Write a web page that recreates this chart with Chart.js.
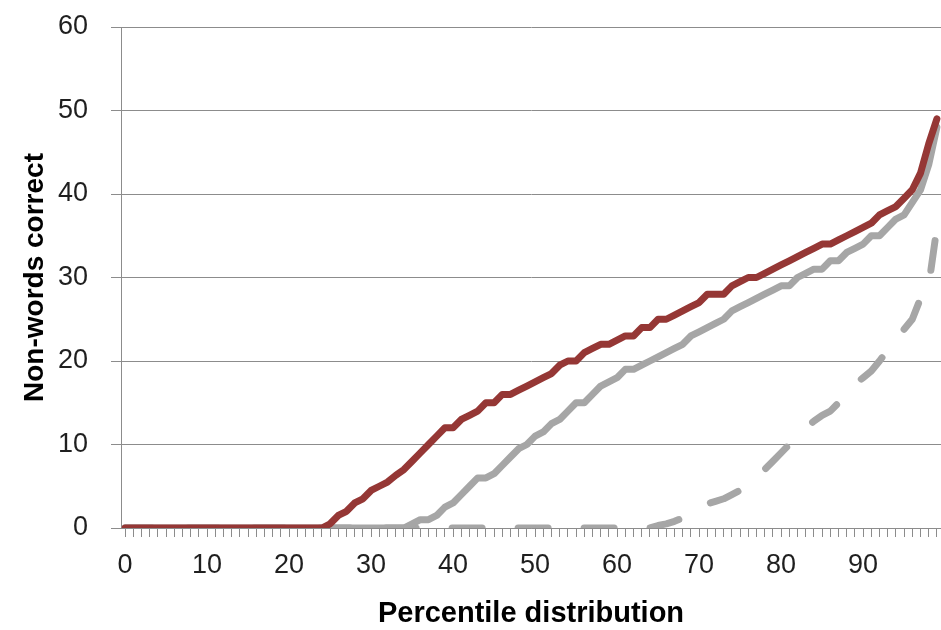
<!DOCTYPE html>
<html>
<head>
<meta charset="utf-8">
<script src="https://cdn.jsdelivr.net/npm/chart.js@4.4.1/dist/chart.umd.min.js"></script>
<style>
	html, body { margin: 0; padding: 0; background: #fff; }
</style>
</head>
<body>
<canvas id="pchart" width="941" height="630"></canvas>
<script>
//=========== data ===========
const percentiles = [
	0, 1, 2, 3, 4, 5, 6, 7, 8, 9,
	10, 11, 12, 13, 14, 15, 16, 17, 18, 19,
	20, 21, 22, 23, 24, 25, 26, 27, 28, 29,
	30, 31, 32, 33, 34, 35, 36, 37, 38, 39,
	40, 41, 42, 43, 44, 45, 46, 47, 48, 49,
	50, 51, 52, 53, 54, 55, 56, 57, 58, 59,
	60, 61, 62, 63, 64, 65, 66, 67, 68, 69,
	70, 71, 72, 73, 74, 75, 76, 77, 78, 79,
	80, 81, 82, 83, 84, 85, 86, 87, 88, 89,
	90, 91, 92, 93, 94, 95, 96, 97, 98, 99
];
const yTicks = [0, 10, 20, 30, 40, 50, 60];

// dark red series
const redScores = [
	0, 0, 0, 0, 0, 0, 0, 0, 0, 0,
	0, 0, 0, 0, 0, 0, 0, 0, 0, 0,
	0, 0, 0, 0, 0, 0.5, 1.5, 2, 3, 3.5,
	4.5, 5, 5.5, 6.3, 7, 8, 9, 10, 11, 12,
	12, 13, 13.5, 14, 15, 15, 16, 16, 16.5, 17,
	17.5, 18, 18.5, 19.5, 20, 20, 21, 21.5, 22, 22,
	22.5, 23, 23, 24, 24, 25, 25, 25.5, 26, 26.5,
	27, 28, 28, 28, 29, 29.5, 30, 30, 30.5, 31,
	31.5, 32, 32.5, 33, 33.5, 34, 34, 34.5, 35, 35.5,
	36, 36.5, 37.5, 38, 38.5, 39.5, 40.5, 42.5, 46, 49
];
// light grey solid series
const greyScores = [
	0, 0, 0, 0, 0, 0, 0, 0, 0, 0,
	0, 0, 0, 0, 0, 0, 0, 0, 0, 0,
	0, 0, 0, 0, 0, 0, 0, 0, 0, 0,
	0, 0, 0, 0, 0, 0.5, 1, 1, 1.5, 2.5,
	3, 4, 5, 6, 6, 6.5, 7.5, 8.5, 9.5, 10,
	11, 11.5, 12.5, 13, 14, 15, 15, 16, 17, 17.5,
	18, 19, 19, 19.5, 20, 20.5, 21, 21.5, 22, 23,
	23.5, 24, 24.5, 25, 26, 26.5, 27, 27.5, 28, 28.5,
	29, 29, 30, 30.5, 31, 31, 32, 32, 33, 33.5,
	34, 35, 35, 36, 37, 37.5, 39, 40.5, 43.5, 48
];
// grey dashed series
const dashScores = [
	0, 0, 0, 0, 0, 0, 0, 0, 0, 0,
	0, 0, 0, 0, 0, 0, 0, 0, 0, 0,
	0, 0, 0, 0, 0, 0, 0, 0, 0, 0,
	0, 0, 0, 0, 0, 0, 0, 0, 0, 0,
	0, 0, 0, 0, 0, 0, 0, 0, 0, 0,
	0, 0, 0, 0, 0, 0, 0, 0, 0, 0,
	0, 0, 0, 0, 0, 0.3, 0.5, 0.8, 1.2, 2,
	2.5, 2.9, 3.2, 3.5, 4, 4.5, 5.3, 6.1, 7, 8,
	9, 10, 11, 12, 12.8, 13.5, 14, 15, 16.5, 17.2,
	18, 18.8, 20, 21.3, 22.5, 23.8, 25, 27.5, 29, 36
];
//============================

const GRID = '#8c8c8c';
const FONT = "'Liberation Sans', Arial, sans-serif";

const ctx = document.getElementById('pchart').getContext('2d');
const myChart = new Chart(ctx, {
	type: 'line',
	data: {
		labels: percentiles,
		datasets: [
			{
				label: 'red',
				data: redScores,
				borderColor: '#953735',
				order: 0,
			},
			{
				label: 'grey',
				data: greyScores,
				borderColor: '#a6a6a6',
				order: 1,
			},
			{
				label: 'grey dashed',
				data: dashScores,
				borderColor: '#a6a6a6',
				borderDash: [30, 36],
				borderDashOffset: 3,
				order: 2,
			}
		]
	},
	options: {
		responsive: false,
		animation: false,
		devicePixelRatio: 1,
		layout: { padding: { left: 14, top: 27, right: 0, bottom: 0 } },
		plugins: {
			legend: { display: false },
			tooltip: { enabled: false },
		},
		datasets: {
			line: {
				// keep the lines from bleeding under the x axis
				clip: { left: 8, top: 8, right: 8, bottom: 0 },
			}
		},
		elements: {
			point: { radius: 0 },
			line: {
				tension: 0,
				borderWidth: 7,
				borderCapStyle: 'round',
				borderJoinStyle: 'round',
			}
		},
		scales: {
			x: {
				offset: true,
				grid: { drawOnChartArea: false, color: GRID, tickLength: 9, lineWidth: 1 },
				border: { color: GRID, width: 1 },
				ticks: {
					autoSkip: false,
					maxRotation: 0,
					minRotation: 0,
					padding: 12,
					color: '#1f1f1f',
					font: { family: FONT, size: 27 },
					callback: function (value) {
						const p = percentiles[value];
						return p % 10 === 0 ? String(p) : '';
					}
				},
				title: {
					display: true,
					text: 'Percentile distribution',
					color: '#000',
					font: { family: FONT, size: 29, weight: 'bold', lineHeight: 1.1 },
					padding: { top: 10, bottom: 0 },
				},
				afterFit: function (axis) {
					axis.height = 630 - 528;
					axis.paddingLeft = 0;
					axis.paddingRight = 0;
				}
			},
			y: {
				min: 0,
				max: 60,
				afterBuildTicks: function (axis) {
					axis.ticks = yTicks.map(v => ({ value: v }));
				},
				grid: { color: GRID, tickLength: 10, lineWidth: 1 },
				border: { color: GRID, width: 1 },
				ticks: {
					padding: 23,
					color: '#1f1f1f',
					font: { family: FONT, size: 27 },
				},
				title: {
					display: true,
					text: 'Non-words correct',
					color: '#000',
					font: { family: FONT, size: 28, weight: 'bold' },
					padding: { top: 4, bottom: 0 },
				},
				afterFit: function (axis) {
					axis.width = 121 - 14;
					axis.paddingTop = 0;
					axis.paddingBottom = 0;
				}
			}
		}
	}
});
</script>
</body>
</html>
